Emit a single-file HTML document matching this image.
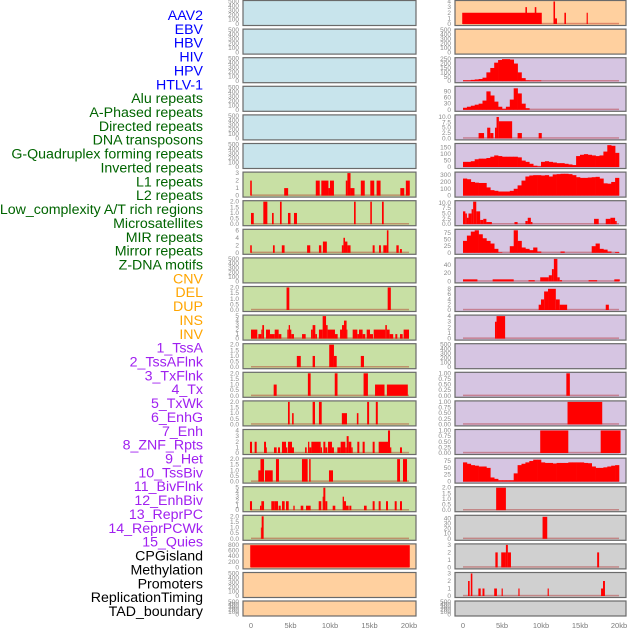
<!DOCTYPE html>
<html><head><meta charset="utf-8"><style>
html,body{margin:0;padding:0;background:#fff;}
svg{display:block;font-family:"Liberation Sans",sans-serif;}
</style></head><body>
<svg id="chart" width="630" height="630" viewBox="0 0 630 630">
<g id="labels"></g>
<g id="panels"></g>
<g id="xaxes"></g>
</svg>
<script>
// ---- data ----
const trackNames = ["AAV2","EBV","HBV","HIV","HPV","HTLV-1","Alu repeats","A-Phased repeats","Directed repeats","DNA transposons","G-Quadruplex forming repeats","Inverted repeats","L1 repeats","L2 repeats","Low_complexity A/T rich regions","Microsatellites","MIR repeats","Mirror repeats","Z-DNA motifs","CNV","DEL","DUP","INS","INV","1_TssA","2_TssAFlnk","3_TxFlnk","4_Tx","5_TxWk","6_EnhG","7_Enh","8_ZNF_Rpts","9_Het","10_TssBiv","11_BivFlnk","12_EnhBiv","13_ReprPC","14_ReprPCWk","15_Quies","CPGisland","Methylation","Promoters","ReplicationTiming","TAD_boundary"];
const trackGroups = ["virus","virus","virus","virus","virus","virus","repeat","repeat","repeat","repeat","repeat","repeat","repeat","repeat","repeat","repeat","repeat","repeat","repeat","sv","sv","sv","sv","sv","chrom","chrom","chrom","chrom","chrom","chrom","chrom","chrom","chrom","chrom","chrom","chrom","chrom","chrom","chrom","other","other","other","other","other"];
const xTickLabels = ["0","5kb","10kb","15kb","20kb"];
const xTickValues = [0,5,10,15,20];

const emptyTicks = [0,100,200,300,400,500];
const leftBg = ["blue","blue","blue","blue","blue","blue","green","green","green","green","green","green","green","green","green","green","green","green","green","orange","orange","orange"];
const leftYmax = [500,500,500,500,500,500,3,2,6,500,2,5,2,2,2,4,2,5,2,800,500,500];
const leftTicks = [emptyTicks,emptyTicks,emptyTicks,emptyTicks,emptyTicks,emptyTicks,[0,1,2,3],[0,0.5,1,1.5,2],[0,2,4,6],emptyTicks,[0,0.5,1,1.5,2],[0,1,2,3,4,5],[0,0.5,1,1.5,2],[0,0.5,1,1.5,2],[0,0.5,1,1.5,2],[0,1,2,3,4],[0,0.5,1,1.5,2],[0,1,2,3,4,5],[0,0.5,1,1.5,2],[0,200,400,600,800],emptyTicks,emptyTicks];
const leftSegs = [
 [],[],[],[],[],[],
 [[-0.1,0.1,2],[4.2,4.7,1],[8.2,8.7,2],[8.9,9.8,2],[9.8,10,1],[10,10.5,2],[12,12.2,2],[12.2,12.6,3],[12.6,13.1,1],[13.9,14.4,2],[15.1,15.6,2],[15.9,16.4,2],[18.9,19.4,1],[19.6,20.1,2]],
 [[0,0.35,1],[1.56,2.07,2],[2.66,2.87,1],[3.67,3.88,2],[4.68,5.0,1],[5.44,5.82,1],[13.04,13.25,2],[15.1,15.3,2],[16.58,16.8,2]],
 [[-0.1,0.1,2],[2.78,3.0,2],[3.9,4.25,2],[7.1,7.5,2],[8.6,8.9,2],[9.1,9.6,3],[11.5,11.7,2],[11.7,11.9,4],[11.9,12.2,3],[12.2,12.6,2],[15.4,15.65,2],[16.2,16.45,2],[16.75,17.2,2],[17.2,17.4,6],[18.4,18.7,2],[18.85,19.1,1]],
 [],
 [[4.5,4.85,2],[17.3,17.7,2]],
 [[0,0.8,2],[0.93,1.31,1],[1.31,1.43,2],[1.43,1.65,3],[1.9,2.4,2],[2.4,3.0,1],[3.0,3.5,2],[3.5,3.84,1],[4.6,4.77,2],[4.77,4.94,3],[4.94,5.1,2],[5.1,5.44,1],[6.46,6.92,1],[7.6,7.8,2],[7.8,8.14,3],[8.14,8.35,1],[8.6,9.07,2],[9.07,9.5,5],[9.5,9.7,3],[9.7,10.63,2],[10.63,10.97,1],[11.27,11.52,2],[11.52,11.77,3],[11.77,12.1,4],[12.1,12.2,2],[12.87,13.46,2],[13.46,13.67,1],[13.67,14.13,2],[14.13,14.47,1],[14.64,15.06,2],[15.06,15.44,1],[15.53,17.0,2],[17.0,17.2,3],[17.2,17.55,2],[17.55,18.0,1],[18.27,18.52,1],[18.86,19.2,1],[19.32,20,2]],
 [[5.8,6.3,1],[7.8,8.1,1],[9.9,10.5,2],[10.5,10.85,1],[13.9,14.3,1]],
 [[2.87,3.25,1],[7.2,7.55,2],[10.6,10.95,2],[14.25,14.8,2],[15.7,16.9,1],[17.2,19.85,1]],
 [[4.68,4.9,2],[5.2,5.4,1],[7.8,8.1,2],[8.6,8.95,2],[11.5,12.15,1],[13.4,13.6,1],[14.7,14.95,2],[15.8,16.05,2]],
 [[-0.13,0.13,2],[0.46,0.72,2],[1.65,1.9,2],[1.9,1.98,1],[2.91,3.25,1],[3.42,3.67,1],[3.92,4.43,2],[4.43,4.6,1],[4.68,5.19,2],[5.19,5.44,1],[6.84,7.05,1],[7.22,7.38,2],[7.38,7.64,1],[7.64,8.82,2],[8.82,8.99,1],[9.16,9.41,2],[9.41,9.66,1],[9.75,10.25,2],[10.25,10.5,1],[10.93,11.35,1],[11.35,11.94,2],[11.94,12.11,1],[12.11,12.36,3],[12.36,12.7,2],[12.7,12.87,1],[13.46,13.71,2],[14.13,14.39,2],[15.4,15.65,2],[16.16,17.34,2],[17.34,17.6,4],[17.6,17.76,1],[18.86,19.11,1]],
 [[0.93,1.2,1],[1.2,1.65,2],[1.77,2.75,1],[3.16,3.54,2],[6.45,7.17,2],[7.36,7.55,2],[9.87,10.38,1],[18.5,18.86,2],[19.24,19.75,2]],
 [[-0.13,0.13,2],[1.14,1.31,1],[1.31,1.65,2],[2.57,3.0,2],[3.0,3.42,2],[3.5,3.76,1],[3.92,4.26,2],[4.43,4.77,2],[5.36,5.53,1],[6.29,6.62,1],[6.96,7.55,1],[8.57,8.9,2],[9.07,9.16,3],[9.16,9.41,5],[9.41,9.66,2],[10.34,10.67,1],[11.6,11.77,3],[11.77,12.03,2],[12.03,12.36,1],[12.45,12.7,1],[14.3,14.64,1],[15.4,15.65,2],[16.16,16.41,2],[17.09,17.34,2],[18.19,18.44,2],[18.86,19.11,2]],
 [[1.25,1.35,1],[1.35,1.6,2]],
 [[-0.1,20.1,790]],
 [],[]
];
const rightBg = ["orange","orange","purple","purple","purple","purple","purple","purple","purple","purple","purple","purple","purple","purple","purple","purple","purple","gray","gray","gray","gray","gray"];
const rightYmax = [4,500,255,110,10.5,175,330,10.5,85,55,8.5,4,500,1,1,1,82,2,44,3,3,500];
const rightTicks = [[0,1,2,3,4],emptyTicks,[0,50,100,150,200,250],[0,30,60,90],[0,2.5,5,7.5,10],[0,50,100,150],[0,100,200,300],[0,2.5,5,7.5,10],[0,25,50,75],[0,20,40],[0,2,4,6,8],[0,1,2,3,4],emptyTicks,[0,0.25,0.5,0.75,1],[0,0.25,0.5,0.75,1],[0,0.25,0.5,0.75,1],[0,25,50,75],[0,0.5,1,1.5,2],[0,10,20,30,40],[0,1,2,3],[0,1,2,3],emptyTicks];
const rightSegs = [
 [[-0.1,10.1,2],[8.0,8.2,3],[9.2,9.4,3],[11.6,11.8,4],[11.8,12.05,1],[13.0,13.2,2],[15.85,16.0,2]],
 [],null,null,
 [[2.0,2.7,2.5],[3.1,3.5,5],[3.5,3.9,2.5],[4.1,4.3,5],[4.3,4.6,10],[4.6,6.3,8],[7.0,7.55,2.5],[9.7,10.1,2.5]],
 null,null,
 [[0,0.3,6],[0.3,0.5,5],[0.5,0.7,3],[0.7,1.1,5],[1.1,1.3,7],[1.3,1.7,10.5],[1.7,2.2,6],[2.2,2.6,2],[2.6,3.0,2.5],[3.0,3.7,1],[6.6,7.0,1],[8.0,8.3,1.5],[8.3,8.7,3],[8.7,8.9,1],[16.8,17.4,2.5],[18.3,18.9,2.5],[18.9,19.5,3],[19.5,19.7,1.5]],
 null,
 [[0,1.85,5],[3.8,6.5,5],[8.4,9.2,3],[9.9,11,10],[11,11.4,15],[11.4,11.65,30],[11.65,12.1,55],[12.1,12.4,10],[12.4,12.7,3],[16.1,17.2,3],[19.4,20.1,5]],
 [[9.7,10,2],[10,10.4,4],[10.4,10.9,7],[10.9,11.9,8],[11.9,12.4,4],[12.4,13.35,2],[18.3,18.7,2]],
 [[4.1,4.3,3],[4.3,5.4,4]],
 [],
 [[13.25,13.7,1]],
 [[13.4,17.85,1]],
 [[9.9,13.5,1],[17.65,20.2,1]],
 null,
 [[4.25,5.5,2]],
 [[10.2,10.8,43]],
 [[4.15,4.45,2],[4.9,5.5,2],[5.5,5.75,3],[5.75,6.15,2],[17.2,17.45,2]],
 [[0.65,0.85,2],[1.0,1.2,3],[1.97,2.27,1],[2.5,2.75,1],[4.0,4.35,1],[4.95,5.1,1],[7.1,7.25,1],[10.85,11.0,1],[17.7,17.95,1],[17.95,18.2,2]],
 []
];
const hivBins = [10,10,15,20,25,40,100,150,210,240,250,250,245,200,100,35,10,8,8,8,0,0,0,0,0,0,0,0,0,0,0,0,0,0,0,0,0,0,0,0];
const hpvBins = [10,15,20,25,30,45,90,70,40,15,5,15,50,105,80,30,8,0,0,0,0,0,0,0,0,0,0,0,0,0,0,0,0,0,0,0,0,0,0,0];
const gquadBins = [40,40,45,60,65,65,70,80,90,85,80,80,80,80,75,50,40,25,10,5,40,45,40,35,30,30,25,20,15,85,95,100,95,90,85,90,120,170,165,110];
const invRepBins = [250,240,200,190,185,185,120,80,70,60,60,60,70,100,150,220,280,295,300,300,295,300,280,310,315,320,320,315,300,270,260,260,265,270,275,250,180,175,200,260];
const mirBins = [45,65,80,85,70,55,45,35,15,2,0,0,25,85,45,20,15,10,20,5,0,0,0,0,0,5,0,0,0,0,0,0,0,25,35,15,12,5,0,3];
const tssBivBins = [70,65,60,58,55,55,50,15,10,5,5,5,5,30,60,65,70,75,80,80,70,68,68,66,68,68,68,70,70,70,70,68,67,55,50,50,52,55,58,60];
const rightBins = [null,null,hivBins,hpvBins,null,gquadBins,invRepBins,null,mirBins,null,null,null,null,null,null,null,tssBivBins,null,null,null,null,null];

// ---- rendering ----
const NS = "http://www.w3.org/2000/svg";
function mk(tag, attrs, parent){const e=document.createElementNS(NS,tag);for(const k in attrs)e.setAttribute(k,attrs[k]);parent.appendChild(e);return e;}
const bgColor = {blue:"#c8e4ec",green:"#c8e0a4",orange:"#ffd09f",purple:"#d6c5e2",gray:"#d0d0d0"};
const groupColor = {virus:"#0000ff",repeat:"#006400",sv:"#ffa500",chrom:"#a020f0",other:"#000000"};
const cols = [{x:243,w:173,x0:251,x1:409,tx:239},{x:455,w:171,x0:463,x1:619,tx:451}];
function rowTop(i){return i===21?601:0.5+28.6*i;}
function rowH(i){return i===21?15:25;}
function fmt(v,ticks){const dec=ticks.some(t=>t%1!==0);if(!dec)return String(v);const need2=ticks.some(t=>Math.round(t*100)%10!==0);return v.toFixed(need2?2:1);}

const labG=document.getElementById('labels');
trackNames.forEach((n,i)=>{
  const t=mk('text',{x:203,y:15+i*13.86+5,'text-anchor':'end','font-size':14.2,fill:groupColor[trackGroups[i]]},labG);
  t.textContent=n;
  
  
});

const panG=document.getElementById('panels');
function drawPanel(c,i,bg,ymax,ticks,segs,bins,side){
  const col=cols[c],top=rowTop(i),h=rowH(i);
  const g=mk('g',{},panG);
  
  
  const r=mk('rect',{x:col.x,y:top,width:col.w,height:h,fill:bgColor[bg],stroke:"#6a6a6a",'stroke-width':1.2},g);
  
  
  const yb=top+h-1.5, yt=top+1;
  const ys=v=>yb-(v/ymax)*(yb-yt);
  const xs=k=>col.x0+(k/20)*(col.x1-col.x0);
  ticks.forEach(tv=>{
    const t=mk('text',{x:col.tx,y:ys(tv)+2,'text-anchor':'end','font-size':6.5,fill:"#8a8a8a"},g);
    t.textContent=fmt(tv,ticks);
    
    
  });
  const hasData=(segs&&segs.length)||bins;
  if(hasData){
    const bl=mk('rect',{x:xs(0),y:yb-1.2,width:xs(20)-xs(0),height:1.5,fill:"rgba(170,0,0,0.35)"},g);
    
    
  }
  if(segs) segs.forEach(s=>{
    const v=Math.min(s[2],ymax);
    const b=mk('rect',{x:xs(s[0]),y:ys(v),width:Math.max(0.8,xs(s[1])-xs(s[0])),height:yb-ys(v),fill:"#ff0000"},g);
    
    
  });
  if(bins) bins.forEach((v,k)=>{
    if(v<=0)return;
    const vv=Math.min(v,ymax);
    const b=mk('rect',{x:xs(k*0.5),y:ys(vv),width:xs(0.5)-xs(0)+0.3,height:yb-ys(vv),fill:"#ff0000"},g);
    
    
  });
}
for(let i=0;i<22;i++){
  drawPanel(0,i,leftBg[i],leftYmax[i],leftTicks[i],leftSegs[i],null,'left');
  drawPanel(1,i,rightBg[i],rightYmax[i],rightTicks[i],rightSegs[i],rightBins[i],'right');
}
const axG=document.getElementById('xaxes');
cols.forEach((col,c)=>{
  xTickValues.forEach((tv,k)=>{
    const t=mk('text',{x:col.x0+(tv/20)*(col.x1-col.x0),y:628,'text-anchor':'middle','font-size':7.5,fill:"#7a7a7a"},axG);
    t.textContent=xTickLabels[k];
    
    
  });
});
</script>
</body></html>
